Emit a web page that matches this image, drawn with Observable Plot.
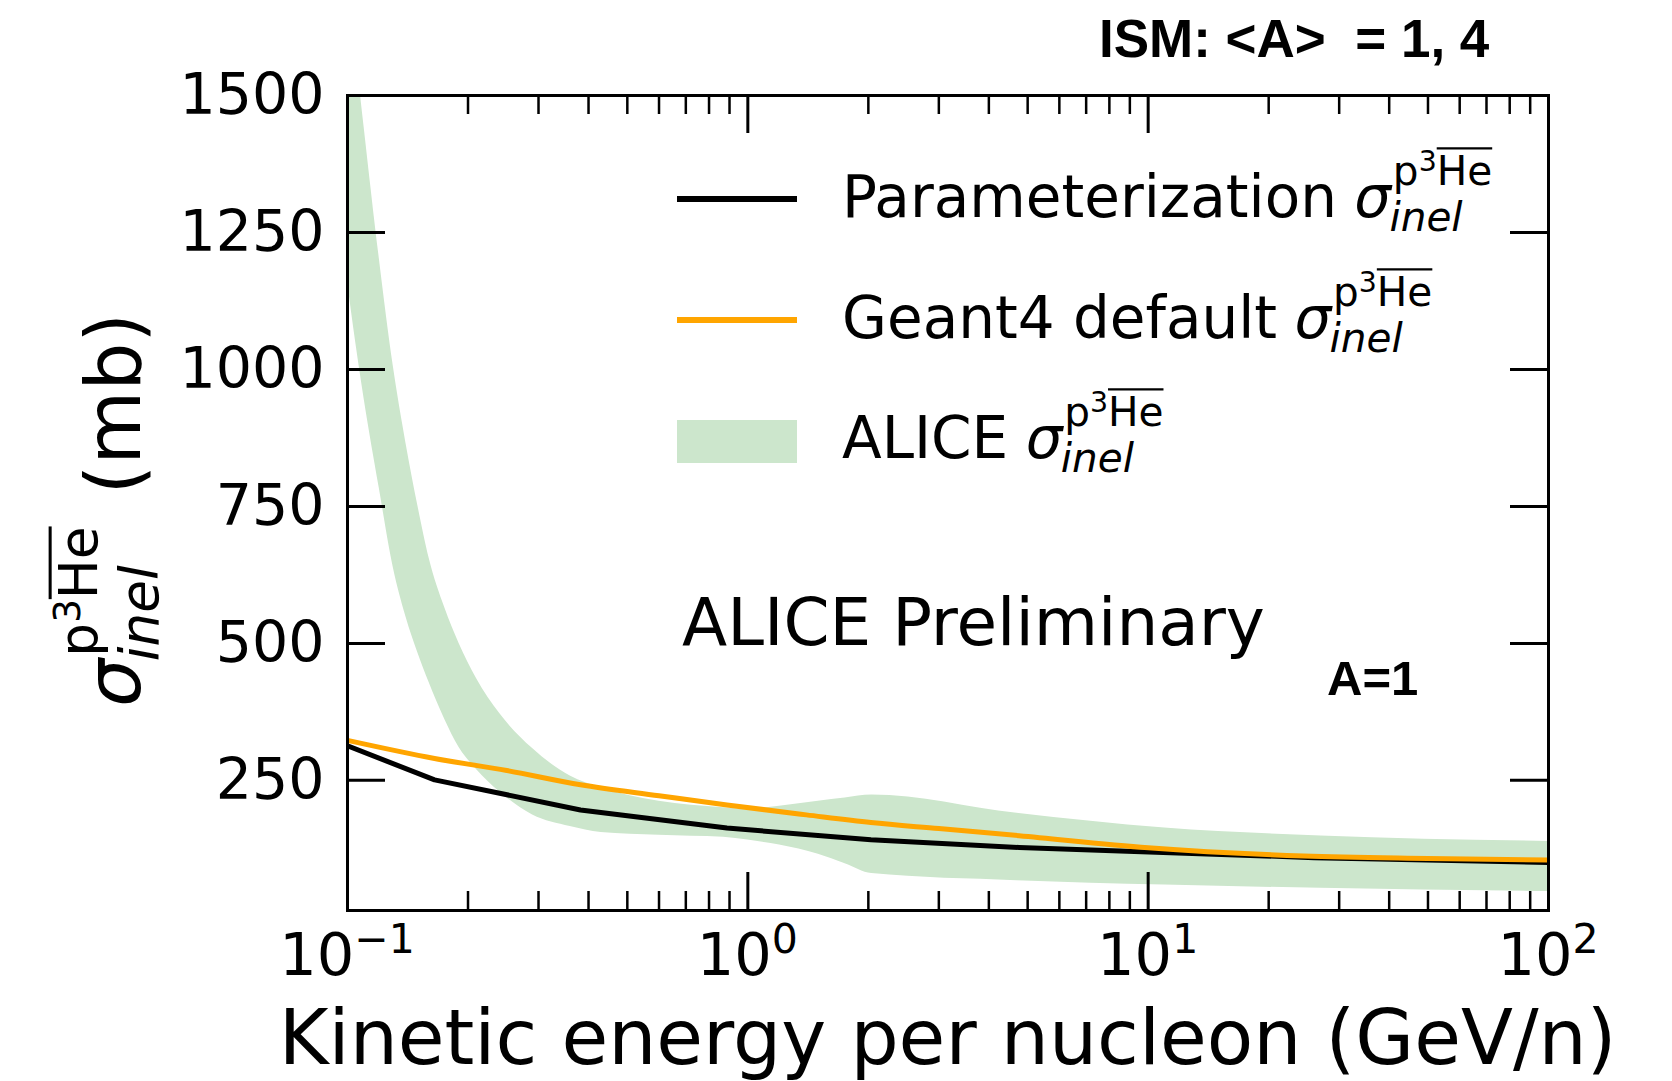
<!DOCTYPE html>
<html>
<head>
<meta charset="utf-8">
<script src="https://cdn.jsdelivr.net/npm/d3@7"></script>
<script src="https://cdn.jsdelivr.net/npm/@observablehq/plot@0.6"></script>
<style>
  html, body { margin: 0; padding: 0; background: #fff; }
  #chart svg { display: block; }
</style>
</head>
<body>
<div id="chart"></div>
<script>
// ---------------- data ----------------
const paramEnergy = [0.1, 0.165, 0.382, 0.887, 2.03, 4.76, 10.9, 26, 100];
const paramSigma  = [313, 251, 196, 163, 141.5, 127.5, 118.5, 109, 100];

const geantEnergy = [0.1, 0.165, 0.25, 0.382, 0.6, 0.887, 1.4, 2.03, 3.0, 4.76, 10, 24.5, 50, 100];
const geantSigma  = [323, 290, 268, 242, 222, 205, 187, 173, 162, 149, 127, 112, 107.5, 104.5];

const aliceEnergy = [0.1, 0.105, 0.11, 0.12, 0.13, 0.14, 0.15, 0.16, 0.175, 0.19, 0.21, 0.24, 0.29, 0.36, 0.43, 0.6, 0.87, 1.0, 1.2, 1.5, 1.75, 2.04, 4.7, 11, 27, 100];
const aliceHigh   = [1720, 1575, 1443, 1204, 1008, 865, 750, 655, 565, 500, 436, 372, 308, 258, 236, 212, 200, 197, 203, 212, 218, 223.5, 190, 163, 148.5, 138.5];
const aliceLow    = [1160, 1046, 947, 784, 640, 548, 482, 428, 361, 310, 270, 229, 187, 166, 155, 150, 146, 141, 132, 115, 98, 80, 67, 59, 53, 47];

const yTicks = [250, 500, 750, 1000, 1250, 1500];
const xMajorTicks = [0.1, 1, 10, 100];
const xTickExponents = ["\u22121", "0", "1", "2"];
const xMinorTicks = [0.2,0.3,0.4,0.5,0.6,0.7,0.8,0.9, 2,3,4,5,6,7,8,9, 20,30,40,50,60,70,80,90];

const legendLabels = ["Parameterization", "Geant4 default", "ALICE"];
const xLabel = "Kinetic energy per nucleon (GeV/n)";
const yUnit = "(mb)";
const topNote = "ISM: <A>  = 1, 4";
const prelimNote = "ALICE Preliminary";
const aNote = "A=1";

// ---------------- tables ----------------
const param = paramEnergy.map((e, i) => ({E: e, s: paramSigma[i]}));
const geant = geantEnergy.map((e, i) => ({E: e, s: geantSigma[i]}));
const band  = aliceEnergy.map((e, i) => ({E: e, lo: aliceLow[i], hi: aliceHigh[i]}));

// ---------------- layout ----------------
const W = 1672, H = 1081;
const mL = 347, mR = 124, mT = 95, mB = 171;
const innerW = W - mL - mR, innerH = H - mT - mB;
const majorLen = 38, minorLen = 19;
const FONT = "DejaVu Sans";
const GREEN = "#cce6cc", ORANGE = "#ffa500";

const plot = Plot.plot({
  width: W, height: H,
  marginLeft: mL, marginRight: mR, marginTop: mT, marginBottom: mB,
  style: {fontFamily: FONT, background: "white", color: "black", overflow: "visible"},
  x: {type: "log", domain: [0.1, 100], axis: null},
  y: {domain: [12.5, 1500]},
  marks: [
    Plot.areaY(band, {x: "E", y1: "lo", y2: "hi", fill: GREEN, curve: "monotone-x", clip: true}),
    Plot.line(param, {x: "E", y: "s", stroke: "black", strokeWidth: 5, clip: true}),
    Plot.line(geant, {x: "E", y: "s", stroke: ORANGE, strokeWidth: 5, curve: "monotone-x", clip: true}),
    // inward ticks
    Plot.ruleY(yTicks, {y: d => d, stroke: "black", strokeWidth: 3, insetRight: innerW - majorLen}),
    Plot.ruleY(yTicks, {y: d => d, stroke: "black", strokeWidth: 3, insetLeft: innerW - majorLen}),
    Plot.ruleX(xMajorTicks, {x: d => d, stroke: "black", strokeWidth: 3, insetTop: innerH - majorLen}),
    Plot.ruleX(xMajorTicks, {x: d => d, stroke: "black", strokeWidth: 3, insetBottom: innerH - majorLen}),
    Plot.ruleX(xMinorTicks, {x: d => d, stroke: "black", strokeWidth: 2.5, insetTop: innerH - minorLen}),
    Plot.ruleX(xMinorTicks, {x: d => d, stroke: "black", strokeWidth: 2.5, insetBottom: innerH - minorLen}),
    Plot.frame({stroke: "black", strokeWidth: 3}),
    Plot.axisY(yTicks, {anchor: "left", tickSize: 0, tickPadding: 23, fontSize: 57, label: null, tickFormat: d => String(d)})
  ]
});

document.getElementById("chart").append(plot);
const svg = d3.select(plot);
const ann = svg.append("g").attr("text-anchor", "start").attr("font-family", FONT).attr("fill", "black");
const xs = plot.scale("x");

// x tick labels: 10^n
xMajorTicks.forEach((v, i) => {
  const t = ann.append("text")
    .attr("x", xs.apply(v)).attr("y", 975)
    .attr("text-anchor", "middle")
    .attr("font-size", 59);
  t.append("tspan").text("10");
  t.append("tspan").attr("font-size", 41).attr("dy", -22).text(xTickExponents[i]);
});

// x label
ann.append("text")
  .attr("x", mL + innerW / 2).attr("y", 1064)
  .attr("text-anchor", "middle")
  .attr("font-size", 76)
  .text(xLabel);

// sigma_inel^{p^3 He-bar} block
function sigmaBlock(parent, x, y, F) {
  const g = parent.append("g").attr("text-anchor", "start");
  const s = g.append("text").attr("x", x).attr("y", y).attr("font-size", F)
    .attr("font-style", "italic").text("\u03c3");
  const ws = s.node().getComputedTextLength();
  const sx = x + ws + 0.03 * F;
  const f2 = 0.7 * F;
  const supY = y - 0.56 * F;
  const sup = g.append("text").attr("x", sx).attr("y", supY).attr("font-size", f2);
  sup.append("tspan").text("p");
  sup.append("tspan").attr("font-size", 0.7 * f2).attr("dy", -0.33 * f2).text("3");
  sup.append("tspan").attr("dy", 0.33 * f2).text("He");
  const n = sup.node();
  const h0 = n.getStartPositionOfChar(2).x, h1 = n.getEndPositionOfChar(3).x;
  const oy = supY - 0.729 * f2 - 0.16 * f2;
  g.append("line").attr("x1", h0).attr("x2", h1).attr("y1", oy).attr("y2", oy)
    .attr("stroke", "black").attr("stroke-width", Math.max(2, 0.04 * F));
  const sub = g.append("text").attr("x", sx - 0.06 * F).attr("y", y + 0.24 * F)
    .attr("font-size", f2).attr("font-style", "italic").text("inel");
  return Math.max(sx + n.getComputedTextLength(), sx - 0.06 * F + sub.node().getComputedTextLength());
}

// y label (rotated)
{
  const F = 76;
  const outer = ann.append("g").attr("transform", `translate(140, 510) rotate(-90)`);
  const inner = outer.append("g");
  const end = sigmaBlock(inner, 0, 0, F);
  const mb = inner.append("text").attr("x", end + 0.42 * F).attr("y", 0)
    .attr("font-size", F).text(yUnit);
  const total = end + 0.42 * F + mb.node().getComputedTextLength();
  inner.attr("transform", `translate(${-total / 2}, 0)`);
}

// legend
{
  const F = 58;
  const x0 = 677, x1 = 797, tx = 842;
  const rows = [217, 338, 458];
  ann.append("line").attr("x1", x0).attr("x2", x1).attr("y1", 199).attr("y2", 199)
    .attr("stroke", "black").attr("stroke-width", 6);
  ann.append("line").attr("x1", x0).attr("x2", x1).attr("y1", 320).attr("y2", 320)
    .attr("stroke", ORANGE).attr("stroke-width", 6);
  ann.append("rect").attr("x", x0).attr("y", 420).attr("width", x1 - x0).attr("height", 43)
    .attr("fill", GREEN);
  legendLabels.forEach((lab, i) => {
    const t = ann.append("text").attr("x", tx).attr("y", rows[i])
      .attr("font-size", F).text(lab);
    const w = t.node().getComputedTextLength();
    sigmaBlock(ann, tx + w + 0.3 * F, rows[i], F);
  });
}

// annotations
ann.append("text").attr("x", 1099).attr("y", 57)
  .attr("font-family", "Liberation Sans, Arial, sans-serif").attr("font-weight", "bold")
  .attr("font-size", 53).style("white-space", "pre").text(topNote);

ann.append("text").attr("x", 682).attr("y", 645)
  .attr("font-size", 66).text(prelimNote);

ann.append("text").attr("x", 1327).attr("y", 695)
  .attr("font-family", "Liberation Sans, Arial, sans-serif").attr("font-weight", "bold")
  .attr("font-size", 49).text(aNote);
</script>
</body>
</html>
